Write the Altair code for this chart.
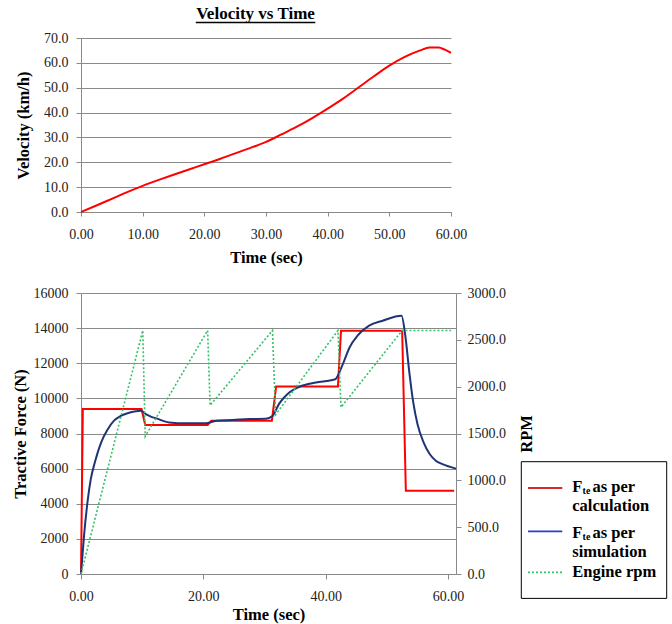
import altair as alt
import pandas as pd

# ---------------- data ----------------
vel_time = [0, 2.5, 5, 7.5, 10, 12.5, 15, 17.5, 20, 22.5, 25, 27.5, 30, 32.5, 35,
            37.5, 40, 42.5, 45, 47.5, 50, 52.5, 55, 56.5, 58, 59, 60]
vel_kmh = [0, 2.6, 5.3, 8.0, 10.5, 12.8, 15.0, 17.1, 19.2, 21.3, 23.6, 25.8, 28.2,
           31.2, 34.3, 37.8, 41.6, 45.6, 50.1, 54.6, 58.9, 62.4, 65.0, 66.2, 66.2, 65.3, 64.0]

calc_time = [0, 0.3, 9.9, 10.5, 20.7, 21.3, 31.2, 31.9, 42.0, 42.5, 52.5, 53.1, 61.0]
calc_force = [0, 9400, 9400, 8480, 8480, 8730, 8730, 10680, 10680, 13850, 13850, 4740, 4740]

sim_time = [0, 0.5, 1.1, 1.6, 2.3, 3.3, 4.3, 5.4, 6.5, 7.6, 8.7, 9.8, 10.6, 11.5, 12.3,
            14.4, 17.2, 20.4, 22.1, 24.8, 27.5, 30.2, 31.3, 32.4, 33.2, 34.1, 35.7, 38.4,
            41.1, 41.6, 42.8, 43.9, 45.2, 47.1, 49.3, 52.4, 53.0, 53.7, 54.3, 55.0, 56.0,
            57.0, 58.0, 59.1, 61.3]
sim_force = [0, 2200, 4200, 5400, 6400, 7500, 8200, 8730, 9000, 9150, 9250, 9300, 9100,
             8950, 8860, 8630, 8580, 8580, 8730, 8770, 8820, 8840, 9000, 9700, 10050, 10350,
             10660, 10900, 11050, 11100, 11950, 12900, 13570, 14140, 14420, 14700, 13600,
             11400, 9800, 8540, 7500, 6830, 6450, 6260, 6000]

rpm_time = [0, 10.1, 10.5, 20.7, 21.1, 31.3, 31.8, 42.0, 42.5, 52.5, 60.5]
rpm_value = [0, 2600, 1470, 2600, 1800, 2600, 1700, 2600, 1780, 2600, 2600]

top_title = "Velocity vs Time"
x_title = "Time (sec)"
vel_title = "Velocity (km/h)"
force_title = "Tractive Force (N)"
rpm_title = "RPM"
vel_ticks = [0, 10, 20, 30, 40, 50, 60]
vel_y_ticks = [0, 10, 20, 30, 40, 50, 60, 70]
force_x_ticks = [0, 20, 40, 60]
force_ticks = [0, 2000, 4000, 6000, 8000, 10000, 12000, 14000, 16000]
rpm_ticks = [0, 500, 1000, 1500, 2000, 2500, 3000]
leg_symbol = "F"
leg_sub = "te"
leg_first = ["as per", "as per"]
leg_second = ["calculation", "simulation"]
leg_third = "Engine rpm"

FONT = "Liberation Serif"
RED = "#ff0000"
NAVY = "#1f3476"
GREEN = "#33c266"
AX = "#8a8a8a"

AXIS_STYLE = dict(
    labelFont=FONT, labelFontSize=14, labelColor="#222222", labelFlush=False,
    titleFont=FONT, titleFontSize=16.5, titleFontWeight="bold", titleColor="black",
    domainColor=AX, tickColor=AX, gridColor=AX,
)

def txt(s, x, y, size=16.5, weight="bold", align="left", baseline="alphabetic"):
    return alt.Chart(pd.DataFrame({"s": [s]})).mark_text(
        font=FONT, fontSize=size, fontWeight=weight, align=align,
        baseline=baseline, color="black"
    ).encode(text="s:N", x=alt.value(x), y=alt.value(y))

def hline(x1, x2, y, color, width=1.5, dash=None):
    kw = dict(color=color, strokeWidth=width)
    if dash:
        kw["strokeDash"] = dash
    return alt.Chart(pd.DataFrame({"s": [0]})).mark_rule(**kw).encode(
        x=alt.value(x1), x2=alt.value(x2), y=alt.value(y))

# ---------------- top chart ----------------
vel_df = pd.DataFrame({"t": vel_time, "v": vel_kmh})
W1, H1 = 370, 174

vel_line = alt.Chart(vel_df).mark_line(color=RED, strokeWidth=2, interpolate="monotone").encode(
    x=alt.X("t:Q", scale=alt.Scale(domain=[0, 60], nice=False),
            axis=alt.Axis(values=vel_ticks, format=".2f", title=x_title, grid=False,
                          tickSize=4, labelPadding=11, titlePadding=8, **AXIS_STYLE)),
    y=alt.Y("v:Q", scale=alt.Scale(domain=[0, 70], nice=False),
            axis=alt.Axis(values=vel_y_ticks, format=".1f", title=vel_title, grid=True,
                          tickSize=5, labelPadding=8, titlePadding=12, **AXIS_STYLE)),
)
top = alt.layer(
    vel_line,
    txt(top_title, 174.5, -24, size=17, align="center", baseline="middle"),
    hline(114.8, 234.3, -15.5, "black", width=1.3),
).properties(width=W1, height=H1)

# ---------------- bottom chart ----------------
W2, H2 = 375, 281
calc_df = pd.DataFrame({"t": calc_time, "f": calc_force})
sim_df = pd.DataFrame({"t": sim_time, "f": sim_force})
rpm_df = pd.DataFrame({"t": rpm_time, "r": rpm_value})

bx = alt.X("t:Q", scale=alt.Scale(domain=[0, 61.3], nice=False),
           axis=alt.Axis(values=force_x_ticks, format=".2f", title=x_title, grid=False,
                         tickSize=5, labelPadding=10, titlePadding=3, **AXIS_STYLE))
by = alt.Y("f:Q", scale=alt.Scale(domain=[0, 16000], nice=False),
           axis=alt.Axis(values=force_ticks, format="d", title=force_title, grid=True,
                         tickSize=5, labelPadding=8, titlePadding=5, **AXIS_STYLE))

red = alt.Chart(calc_df).mark_line(color=RED, strokeWidth=2).encode(x=bx, y=by)
blue = alt.Chart(sim_df).mark_line(color=NAVY, strokeWidth=2, interpolate="monotone").encode(x=bx, y=by)
left = alt.layer(red, blue)

green = alt.Chart(rpm_df).mark_line(color=GREEN, strokeWidth=1.6, strokeDash=[2, 2]).encode(
    x=bx,
    y=alt.Y("r:Q", scale=alt.Scale(domain=[0, 3000], nice=False),
            axis=alt.Axis(orient="right", values=rpm_ticks, format=".1f", title=rpm_title,
                          grid=False, tickSize=5, labelPadding=6, titlePadding=29,
                          titleAngle=270, **AXIS_STYLE)),
)

box = alt.Chart(pd.DataFrame({"s": [0]})).mark_rect(
    fill="white", stroke="black", strokeWidth=1
).encode(x=alt.value(440.3), x2=alt.value(585.7), y=alt.value(168.7), y2=alt.value(305.4))

legend_layers = [
    box,
    hline(447, 481.3, 195, "#d42a2a", 1.8),
    txt(leg_symbol, 491.3, 199.4),
    txt(leg_sub, 501.6, 201.4, size=10),
    txt(leg_first[0], 511.5, 199.4),
    txt(leg_second[0], 491.3, 217.7),
    hline(447, 481.3, 238.4, "#2a3ec8", 1.8),
    txt(leg_symbol, 491.3, 245),
    txt(leg_sub, 501.6, 247, size=10),
    txt(leg_first[1], 511.5, 245),
    txt(leg_second[1], 491.3, 263.7),
    hline(447, 481.3, 279.4, GREEN, 1.6, dash=[2, 2]),
    txt(leg_third, 491.3, 283.7),
]

bottom = alt.layer(left, green, *legend_layers).resolve_scale(y="independent").properties(
    width=W2, height=H2)

chart = alt.vconcat(top, bottom, spacing=20).properties(
    padding={"left": 12, "top": 5, "right": 2, "bottom": 2}
).configure_view(stroke=None).configure_axis(
    labelFont=FONT, labelFontSize=14, labelColor="#222222",
    titleFont=FONT, titleFontSize=16.5, titleFontWeight="bold", titleColor="black",
    domainColor=AX, tickColor=AX, gridColor=AX, gridWidth=1, domainWidth=1,
)

chart.save("out.html", embed_options={"renderer": "svg", "actions": False})
